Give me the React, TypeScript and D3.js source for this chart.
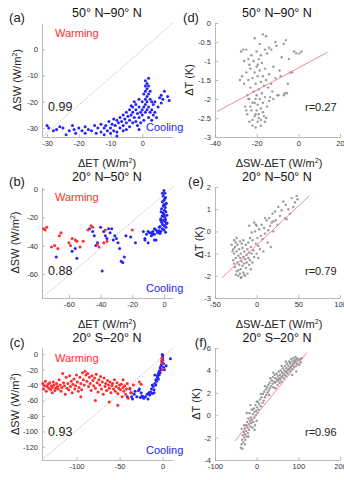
import React, { useEffect, useRef } from 'react';
import * as d3 from 'd3';

// ---- data ----
const titles = ['50° N–90° N', '20° N–50° N', '20° S–20° N'];
const leftLetters = ['(a)', '(b)', '(c)'];
const rightLetters = ['(d)', '(e)', '(f)'];
const leftCorr = ['0.99', '0.88', '0.93'];
const rightCorr = ['r=0.27', 'r=0.79', 'r=0.96'];

// (a) 50N-90N  dSW vs dET
const aCooling = [
  [-30,-29],[-29.5,-30],[-28,-31],[-27,-30.5],[-26,-29.5],[-25,-30],[-24,-32.5],[-23,-31],[-22,-29],[-21.5,-30.5],
  [-21,-32],[-20,-30],[-19,-31],[-18,-29.5],[-18,-32],[-17,-30.5],[-16,-31],[-15,-29],[-14.5,-32],[-14,-30],
  [-13,-31.5],[-13,-28.5],[-12,-30],[-12,-32.5],[-11.5,-29],[-11,-31],[-10.5,-27.5],[-10,-30],[-10,-32],[-9.5,-28.5],
  [-9,-31],[-9,-26.5],[-8.5,-29],[-8,-27],[-8,-31.5],[-8,-33],[-7.5,-28],[-7,-26],[-7,-30],[-6.5,-27.5],
  [-6,-25],[-6,-29],[-6,-31],[-5.5,-26.5],[-5,-24],[-5,-28],[-5,-30.5],[-4.5,-25.5],[-4,-23],[-4,-27],
  [-4,-29.5],[-3.5,-21.5],[-3.5,-25],[-3,-24],[-3,-28],[-3,-22],[-2.5,-20],[-2.5,-26],[-2,-23],[-2,-27.5],
  [-2,-21],[-1.5,-24.5],[-1.5,-29],[-1,-22],[-1,-26],[-1,-19],[-1,-30.5],[-0.5,-24],[-0.5,-28],[0,-20],
  [0,-25],[0,-23],[0.5,-17],[0.5,-22],[0.5,-27],[1,-12],[1,-14],[1,-16],[1,-19],[1,-21],
  [1,-24],[1.5,-13],[1.5,-15],[1.5,-18],[1.5,-20],[1.5,-23],[2,-11],[2,-14],[2,-17],[2,-22],
  [2,-26],[2.5,-16],[2.5,-19],[2.5,-24],[3,-20],[3,-23],[3,-27],[3.5,-21],[3.5,-25],[4,-24],
  [4,-20],[4.5,-26],[5,-22],[5.5,-18.5],[6,-17.5],[6,-20.5],[6.5,-19],[7,-16],[8,-18],[8.5,-19.5]
];
const aWarming: number[][] = [];

// (b) 20N-50N
const bWarming = [
  [-76,-28],[-75,-29],[-74,-27],[-71,-41],[-69,-40],[-67,-42],[-66,-33],[-65,-31],[-60,-38],[-59,-40],
  [-58,-35],[-56,-36],[-55,-37],[-53,-41],[-51,-37],[-48,-29],[-46,-26],[-45,-27],[-42,-39],[-41,-41],
  [-38,-38],[-37,-29],[-36,-37],[-20,-29]
];
const bCooling = [
  [-68,-48],[-58,-44],[-56,-42],[-55,-49],[-47,-28],[-45,-30],[-44,-33],[-43,-40],[-42,-38],[-40,-27],
  [-39,-58],[-38,-30],[-37,-33],[-36,-35],[-35,-28],[-34,-31],[-33,-28],[-32,-36],[-31,-33],[-30,-35],
  [-29,-38],[-28,-42],[-27,-51],[-26,-52],[-25,-48],[-24,-33],[-21,-34],[-18,-38],[-12,-36],[-10,-30],
  [-8,-31],[-7,-32],[-6,-28],[-5,-36],[-4,-30],[-3,-27],[-2,-22],[0,-1],[0.5,-3],[-0.5,-5],
  [1,-6],[0,-8],[-1,-9],[1.5,-10],[0,-11],[-0.5,-12],[0.8,-13],[-1.5,-14],[0.3,-15],[1.2,-16],
  [-0.7,-17],[0,-18],[1.8,-18.5],[-1.2,-19],[0.5,-20],[-2,-21],[1,-21.5],[-0.3,-22],[0.6,-23],[-1.5,-23.5],
  [2,-24],[-0.8,-25],[0.2,-26],[-2.5,-26.5],[1.3,-27],[-1,-28],[0,-29],[-3,-29.5],[-2,-30],[1,-30.5],
  [-4,-31],[-5,-29],[-6,-32],[-8,-33],[-9,-31],[-11,-32],[-13,-30],[-7,-30],[-1,-3],[0.4,-7],
  [-0.2,-19.5],[1.5,-24.5],[0.8,-11],[-1.8,-16],[-2.5,-31.5],[-10,-38],[-6,-36],[-12,-35]
];

// (c) 20S-20N
const cWarming = [
  [-139,-38],[-138,-45],[-137,-41],[-136,-35],[-135,-48],[-134,-42],[-133,-39],[-132,-44],[-131,-37],[-130,-46],
  [-129,-41],[-128,-43],[-127,-36],[-126,-40],[-125,-47],[-124,-44],[-123,-38],[-122,-42],[-121,-45],[-120,-33],
  [-119,-40],[-118,-48],[-117,-43],[-116,-25],[-115,-37],[-114,-41],[-113,-52],[-112,-30],[-111,-44],[-110,-38],
  [-109,-46],[-108,-28],[-107,-42],[-106,-35],[-105,-50],[-104,-39],[-103,-32],[-102,-45],[-101,-41],[-100,-27],
  [-99,-36],[-98,-48],[-97,-43],[-96,-30],[-95,-38],[-94,-46],[-93,-24],[-92,-33],[-91,-40],[-90,-22],
  [-89,-27],[-88,-35],[-87,-25],[-86,-42],[-85,-30],[-84,-38],[-83,-47],[-82,-28],[-81,-34],[-80,-41],
  [-79,-31],[-78,-44],[-77,-26],[-76,-37],[-75,-49],[-74,-33],[-73,-40],[-72,-29],[-71,-45],[-70,-36],
  [-69,-52],[-68,-31],[-67,-42],[-66,-38],[-65,-47],[-64,-34],[-63,-40],[-62,-44],[-61,-36],[-60,-50],
  [-59,-41],[-58,-38],[-57,-45],[-56,-33],[-55,-48],[-54,-42],[-53,-37],[-52,-51],[-51,-44],[-50,-40],
  [-49,-46],[-48,-39],[-47,-55],[-46,-43],[-45,-48],[-44,-41],[-43,-52],[-42,-45],[-41,-38],[-40,-57],
  [-38,-44],[-36,-50],[-34,-40],[-62,-62],[-52,-66],[-78,-60],[-95,-55],[-128,-50],[-27,-36],[-25,-39],
  [-46,-33],[-1,-8],[-0.5,-12],[0,-20],[-1,-5]
];
const cCooling = [
  [-41,-55],[-38,-45],[-37,-50],[-36,-55],[-35,-58],[-33,-52],[-32,-48],[-30,-55],[-28,-47],[-27,-45],
  [-26,-56],[-25,-50],[-24,-54],[-23,-55],[-22,-57],[-20,-55],[-18,-52],[-17,-58],[-16,-50],[-15,-53],
  [-14,-49],[-13,-45],[-12,-40],[-12,-51],[-11,-42],[-10,-46],[-10,-50],[-9,-27],[-9,-38],[-8,-40],
  [-8,-33],[-7,-35],[-6,-28],[-6,-30],[-5,-25],[-5,-32],[-4,-22],[-4,-27],[-3,-18],[-3,-24],
  [-2,-15],[-2,-20],[-1,-10],[-1,-13],[0,-2],[0,-5],[0,-8],[1,-12],[1,-17],[-0.5,-0.5],
  [2,-20],[4,-15],[9,-6]
];

// (d) 50N-90N  dT vs dSW-dET
const dPoints = [
  [-27,-1.4],[-26.5,-0.7],[-26,-1.6],[-26,-1.0],[-25.5,-2.2],[-25,-0.7],[-25,-1.3],[-25,-2.3],[-24.5,-1.9],[-24.5,-2.4],
  [-24,-1.5],[-24,-0.95],[-24,-2.0],[-23.5,-2.0],[-23.5,-2.6],[-23.5,-1.1],[-23,-1.2],[-23,-1.7],[-23,-2.2],[-22.5,-2.3],
  [-22.5,-0.85],[-22,-1.45],[-22,-2.1],[-22,-2.7],[-22,-2.55],[-21.5,-1.0],[-21.5,-1.8],[-21,-2.45],[-21,-1.3],[-21,-0.4],
  [-21,-2.1],[-20.5,-2.0],[-20.5,-1.6],[-20.5,-2.75],[-20.5,-2.4],[-20,-1.15],[-20,-1.9],[-20,-2.3],[-20,-0.75],[-19.5,-1.4],
  [-19.5,-2.15],[-19.5,-2.6],[-19.5,-1.1],[-19,-1.75],[-19,-0.95],[-19,-2.4],[-19,-2.5],[-18.5,-1.25],[-18.5,-2.0],[-18.5,-0.55],
  [-18,-1.55],[-18,-2.25],[-18,-2.7],[-18,-2.55],[-18,-0.85],[-17.5,-1.05],[-17.5,-1.85],[-17,-1.4],[-17,-2.1],[-17,-0.3],
  [-17,-2.35],[-16.5,-1.65],[-16.5,-2.45],[-16,-1.2],[-16,-1.95],[-16,-2.6],[-16,-0.7],[-15.5,-0.35],[-15.5,-1.5],[-15.5,-2.5],
  [-15,-2.2],[-15,-0.8],[-14.5,-1.7],[-14,-1.35],[-14,-2.05],[-14,-0.65],[-13.5,-1.95],[-13,-0.7],[-13,-1.6],[-12.5,-1.8],
  [-12,-1.15],[-12,-2.0],[-11,-1.45],[-11,-0.5],[-10.5,-0.6],[-10,-1.9],[-9.5,-1.9],[-9,-1.25],[-8.5,-1.4],[-8,-0.9],
  [-7,-0.55],[-7,-1.9],[-6.5,-1.85],[-6,-0.45],[-5.5,-1.85],[-5,-1.6],[-4.5,-0.95],[-4,-1.3],[-3,-1.3],[-2,-0.75],
  [-1,-0.8],[0.5,-0.8],[1.5,-0.75],[-27.5,-0.75],[-28,-1.5]
];
const dFit = [[-39,-2.33],[14,-0.77]];

// (e) 20N-50N
const ePoints = [
  [-30,-0.6],[-29,-0.9],[-28,-1.3],[-28,-0.8],[-27,-0.4],[-27,-1.0],[-27,-1.45],[-26,-0.7],[-26,-1.6],[-25,-1.2],
  [-25,-0.5],[-25,-1.95],[-24,-0.9],[-24,-1.8],[-24,-0.3],[-23,-1.4],[-23,-0.6],[-22,-1.1],[-22,-2.0],[-22,-1.75],
  [-21,-0.8],[-21,-1.5],[-20,-1.2],[-20,-1.9],[-20,-0.45],[-19,-1.0],[-19,-1.7],[-19,-2.1],[-18,-1.35],[-18,-2.05],
  [-18,-0.55],[-17,-0.75],[-17,-1.55],[-16,-1.15],[-16,-1.85],[-16,-0.4],[-15,-0.9],[-15,-1.45],[-15,-1.95],[-14,-1.25],
  [-14,-2.0],[-13,-0.6],[-13,-1.65],[-12,-1.05],[-12,-1.4],[-11,-0.8],[-11,-1.9],[-10,-1.2],[-10,-0.5],[-9,-1.5],
  [-9,-0.95],[-9,0.26],[-8,-1.3],[-8,-0.3],[-7,-0.7],[-7,-1.7],[-6,-1.0],[-6,-0.05],[-5,-0.4],[-5,-1.4],
  [-4,-0.85],[-3,-1.15],[-3,0.4],[-2,0.0],[-1,-0.55],[-1,0.3],[0,-1.0],[0,0.25],[1,-0.3],[2,-0.65],
  [2,-1.2],[3,0.1],[4,-0.8],[5,-0.2],[6,0.3],[7,-0.35],[8,-0.9],[9,0.15],[10,-0.1],[10,0.6],
  [12,0.5],[13,-0.5],[14,0.05],[15,0.6],[16,0.25],[17,-0.7],[18,0.4],[19,0.8],[20,0.0],[20,0.45],
  [22,0.9],[23,0.5],[25,0.3],[26,1.1],[28,0.7],[30,0.95],[32,1.35],[34,0.6],[35,1.2],[36,0.55],
  [38,1.0],[40,0.8],[42,1.5],[44,1.1],[46,1.3],[48,1.6],[49,1.45]
];
const eFit = [[-42,-2.1],[63,1.6]];

// (f) 20S-20N
const fPoints = [
  [-38,-2.9],[-36,-2.6],[-36,-1.2],[-35,-2.2],[-34,-3.0],[-33,-1.8],[-32,-2.4],[-31,-1.5],[-30,-2.0],[-30,-0.9],
  [-29,-1.2],[-28,-1.7],[-28,-2.6],[-27,-2.2],[-26,-0.9],[-25,-1.4],[-24,-1.9],[-24,0.2],[-23,-0.6],[-22,-1.1],
  [-21,-1.6],[-20,-0.3],[-20,-1.9],[-19,-0.8],[-18,-1.3],[-17,0.2],[-16,-0.5],[-15,-1.0],[-15,0.9],[-14,-0.2],
  [-13,-0.7],[-12,0.5],[-11,-0.4],[-10,-1.1],[-10,0.5],[-9,0.1],[-8,-0.6],[-7,0.6],[-6,-0.2],[-5,0.3],
  [-5,-1.3],[-4,-0.9],[-3,0.9],[-2,0.0],[-1,0.4],[0,-0.5],[0,1.2],[1,0.7],[2,0.2],[3,1.2],
  [5,0.5],[6,1.0],[8,1.4],[10,0.8],[10,1.9],[12,1.6],[14,1.1],[15,1.9],[17,1.3],[18,2.1],
  [20,1.6],[20,2.6],[22,2.3],[23,1.8],[25,2.5],[26,2.0],[28,2.7],[29,2.2],[30,1.8],[31,2.9],
  [32,2.4],[33,3.3],[35,2.6],[36,3.1],[38,2.8],[39,3.4],[40,2.5],[40,3.8],[41,3.0],[43,3.6],
  [44,2.9],[45,3.3],[45,2.4],[47,3.0],[48,3.7],[49,3.2],[50,2.7],[51,3.5],[52,3.1],[53,3.9],
  [54,3.3],[55,2.9],[56,3.6],[57,3.2],[58,4.0],[59,3.4],[60,3.0],[60,4.4],[61,3.8],[62,3.5],
  [63,4.2],[64,3.7],[65,3.3],[66,4.0],[67,3.6],[68,4.4],[69,3.9],[70,3.5],[70,4.8],[71,4.2],
  [72,3.8],[73,4.6],[74,4.0],[75,3.7],[76,4.4],[77,4.1],[78,4.8],[79,4.2],[80,3.9],[80,4.7],
  [81,4.6],[82,4.3],[83,5.0],[84,4.4],[85,4.1],[85,3.6],[86,4.8],[87,4.5],[88,5.1],[89,4.6],
  [90,4.3],[91,4.9],[92,4.7],[93,5.2],[94,4.8],[95,4.4],[95,3.9],[96,5.0],[97,4.6],[98,5.1],
  [100,4.9],[102,4.5],[104,5.0],[106,4.7],[108,5.1]
];
const fFit = [[-52,-2.3],[121,5.6]];

const aXTicks = [-30, -20, -10, 0];
const aYTicks = [0, -10, -20, -30];
const bXTicks = [-60, -40, -20, 0];
const bYTicks = [0, -20, -40, -60];
const cXTicks = [-100, -50, 0];
const cYTicks = [0, -20, -40, -60, -80, -100, -120];
const dXTicks = [-40, -20, 0, 20];
const dYTicks = [0, -0.5, -1, -1.5, -2, -2.5, -3];
const eXTicks = [-50, 0, 50, 100];
const eYTicks = [2, 1, 0, -1, -2, -3];
const fXTicks = [-100, 0, 100, 200];
const fYTicks = [6, 4, 2, 0, -2, -4];

const FONT = '"Liberation Sans", Arial, Helvetica, sans-serif';
const RED = '#ff2b2b';
const BLUE = '#2222ff';
const GREY = '#9a9a9a';

function App() {
  const ref = useRef<SVGSVGElement>(null);

  useEffect(() => {
    const svg = d3.select(ref.current);
    svg.selectAll('*').remove();
    svg.style('font-family', FONT);

    const rows = [[23, 137], [187, 298], [348, 460]];
    const leftX = [42, 173];
    const rightX = [215, 340];

    const left = [
      { xd: [-31.6, 9.7], yd: [-33.4, 10], xt: aXTicks, yt: aYTicks, warm: aWarming, cool: aCooling, ylx: 17 },
      { xd: [-77, 5.7], yd: [-77, 1.4], xt: bXTicks, yt: bYTicks, warm: bWarming, cool: bCooling, ylx: 15 },
      { xd: [-140, 12], yd: [-137, 8], xt: cXTicks, yt: cYTicks, warm: cWarming, cool: cCooling, ylx: 15 }
    ];
    const right = [
      { xd: [-40, 20], yd: [-3, 0], xt: dXTicks, yt: dYTicks, pts: dPoints, fit: dFit, ylx: 189 },
      { xd: [-50, 100], yd: [-3, 2], xt: eXTicks, yt: eYTicks, pts: ePoints, fit: eFit, ylx: 199 },
      { xd: [-100, 200], yd: [-4, 6], xt: fXTicks, yt: fYTicks, pts: fPoints, fit: fFit, ylx: 196 }
    ];

    const drawAxes = (x: any, y: any, xt: number[], yt: number[]) => {
      const gx = svg.append('g')
        .attr('transform', 'translate(0,' + y.range()[0] + ')')
        .call(d3.axisBottom(x).tickValues(xt).tickSize(-3).tickSizeOuter(0).tickPadding(4)
          .tickFormat((d: any) => String(d)));
      const gy = svg.append('g')
        .attr('transform', 'translate(' + x.range()[0] + ',0)')
        .call(d3.axisLeft(y).tickValues(yt).tickSize(-3).tickSizeOuter(0).tickPadding(4)
          .tickFormat((d: any) => String(d)));
      [gx, gy].forEach(g => {
        g.select('.domain').attr('stroke', '#a8a8a8').attr('stroke-width', 0.8);
        g.selectAll('.tick line').attr('stroke', '#a8a8a8').attr('stroke-width', 0.8);
        g.selectAll('.tick text').attr('fill', '#333').style('font-size', '7.5px').style('font-family', FONT);
      });
    };

    const unitLabel = (sel: any, pre: string) => {
      sel.append('tspan').text(pre + ' (W/m');
      sel.append('tspan').attr('dy', -4).style('font-size', '7px').text('2');
      sel.append('tspan').attr('dy', 4).text(')');
    };

    rows.forEach((row, i) => {
      const L = left[i];
      const R = right[i];

      // ---- left panel ----
      const x = d3.scaleLinear().domain(L.xd).range(leftX);
      const y = d3.scaleLinear().domain(L.yd).range([row[1], row[0]]);

      // 1:1 line
      svg.append('path')
        .datum([[L.xd[0], L.yd[0]], [L.xd[1], L.yd[1]]])
        .attr('d', d3.line().x((d: any) => x(d[0])).y((d: any) => y(d[1])) as any)
        .attr('stroke', '#9c9c9c').attr('stroke-width', 0.7)
        .attr('stroke-dasharray', '1.2,1.2').attr('fill', 'none');

      drawAxes(x, y, L.xt, L.yt);

      svg.append('g').selectAll('circle')
        .data(L.cool).enter().append('circle')
        .attr('cx', (d: any) => x(d[0])).attr('cy', (d: any) => y(d[1]))
        .attr('r', 1.5).attr('fill', BLUE);
      svg.append('g').selectAll('circle')
        .data(L.warm).enter().append('circle')
        .attr('cx', (d: any) => x(d[0])).attr('cy', (d: any) => y(d[1]))
        .attr('r', 1.5).attr('fill', RED);

      svg.append('text').attr('x', 55).attr('y', row[0] + 14)
        .attr('fill', RED).style('font-size', '11px').text('Warming');
      svg.append('text').attr('x', 146).attr('y', row[1] - 6)
        .attr('fill', BLUE).style('font-size', '11px').text('Cooling');
      svg.append('text').attr('x', 48).attr('y', row[0] + 88)
        .attr('fill', '#222').style('font-size', '12.5px').text(leftCorr[i]);

      svg.append('text').attr('x', 17).attr('y', row[0] - 1).attr('text-anchor', 'middle')
        .attr('fill', '#222').style('font-size', '13px').text(leftLetters[i]);

      const ylab = svg.append('text')
        .attr('transform', 'translate(' + L.ylx + ',' + (row[0] + row[1]) / 2 + ') rotate(-90)')
        .attr('text-anchor', 'middle').attr('dy', '0.35em')
        .attr('fill', '#222').style('font-size', '11px');
      unitLabel(ylab, 'ΔSW');

      const xlab = svg.append('text').attr('x', 107).attr('y', row[1] + 30)
        .attr('text-anchor', 'middle').attr('fill', '#222').style('font-size', '11px');
      unitLabel(xlab, 'ΔET');

      svg.append('text').attr('x', 107).attr('y', row[0] - 6).attr('text-anchor', 'middle')
        .attr('fill', '#111').style('font-size', '12.5px').text(titles[i]);

      // ---- right panel ----
      const x2 = d3.scaleLinear().domain(R.xd).range(rightX);
      const y2 = d3.scaleLinear().domain(R.yd).range([row[1], row[0]]);

      drawAxes(x2, y2, R.xt, R.yt);

      svg.append('g').selectAll('circle')
        .data(R.pts).enter().append('circle')
        .attr('cx', (d: any) => x2(d[0])).attr('cy', (d: any) => y2(d[1]))
        .attr('r', 1.2).attr('fill', GREY);

      svg.append('path')
        .datum(R.fit)
        .attr('d', d3.line().x((d: any) => x2(d[0])).y((d: any) => y2(d[1])) as any)
        .attr('stroke', '#f28a92').attr('stroke-width', 1).attr('fill', 'none');

      svg.append('text').attr('x', 305).attr('y', row[0] + 88)
        .attr('fill', '#222').style('font-size', '11px').text(rightCorr[i]);

      svg.append('text').attr('x', 191 + i * 5).attr('y', row[0] - 1).attr('text-anchor', 'middle')
        .attr('fill', '#222').style('font-size', '13px').text(rightLetters[i]);

      svg.append('text')
        .attr('transform', 'translate(' + R.ylx + ',' + (row[0] + row[1]) / 2 + ') rotate(-90)')
        .attr('text-anchor', 'middle').attr('dy', '0.35em')
        .attr('fill', '#222').style('font-size', '11px').text('ΔT (K)');

      const xlab2 = svg.append('text').attr('x', 279).attr('y', row[1] + 30)
        .attr('text-anchor', 'middle').attr('fill', '#222').style('font-size', '11px');
      unitLabel(xlab2, 'ΔSW-ΔET');

      svg.append('text').attr('x', 277).attr('y', row[0] - 6).attr('text-anchor', 'middle')
        .attr('fill', '#111').style('font-size', '12.5px').text(titles[i]);
    });
  }, []);

  return (
    <svg ref={ref} width={344} height={480}
      style={{ position: 'absolute', left: 0, top: 0, background: '#fff' }} />
  );
}

export default App;
